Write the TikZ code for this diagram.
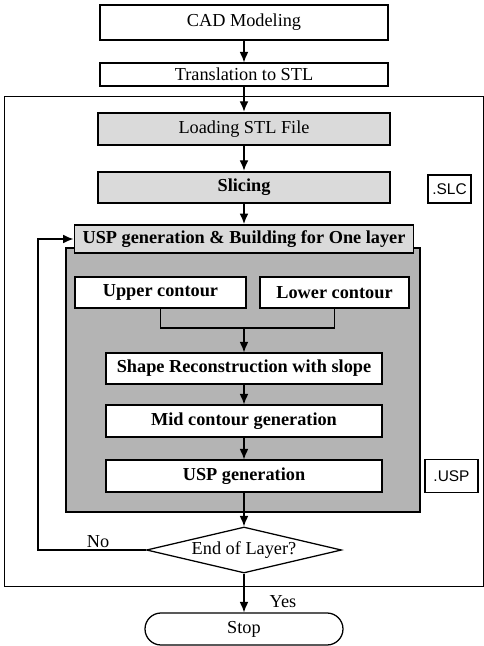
\documentclass[tikz,border=0pt]{standalone}
\usepackage{fontspec}
\setmainfont{Liberation Serif}
\newfontfamily\extfont{Liberation Sans}
\usepackage{xcolor}
\definecolor{flowPanel}{HTML}{B4B4B4}
\definecolor{flowStep}{HTML}{DADADA}
\usetikzlibrary{arrows.meta,shapes.geometric}

\begin{document}
\begin{tikzpicture}[
  box/.style={draw, fill=white, line width=0.9pt, inner sep=0pt, font=\fontsize{13}{15}\selectfont},
  stepbox/.style={box, fill=flowStep, line width=1.8pt},
  boldbox/.style={box, font=\fontsize{13}{15}\selectfont\bfseries},
  extbox/.style={draw, fill=white, line width=0.9pt, inner sep=0pt, font=\extfont\fontsize{11}{13}\selectfont},
  flow/.style={-{Latex[length=2.6mm,width=2.2mm]}, line width=0.9pt},
  link/.style={line width=0.9pt}
]
  \useasboundingbox (0cm,0cm) rectangle (12.1cm,-16.15cm);
  % frame and shaded panel
  \draw[line width=0.6pt] (0.1cm,-2.4cm) rectangle (12.075cm,-14.65cm);
  \filldraw[fill=flowPanel, line width=1.2pt] (1.65cm,-6.2cm) rectangle (10.5cm,-12.8cm);
  % steps
  \node[box, minimum width=7.2cm, minimum height=0.875cm] (cad) at (6.1cm,-0.5625cm) {CAD Modeling};
  \node[box, minimum width=7.2cm, minimum height=0.575cm] (stl) at (6.1cm,-1.8625cm) {Translation to STL};
  \node[stepbox, minimum width=7.3cm, minimum height=0.8cm] (load) at (6.1cm,-3.225cm) {Loading STL File};
  \node[stepbox, minimum width=7.3cm, minimum height=0.775cm, font=\fontsize{13}{15}\selectfont\bfseries] (slice) at (6.1cm,-4.6875cm) {Slicing};
  \node[extbox, minimum width=1.075cm, minimum height=0.7cm] (slc) at (11.2375cm,-4.725cm) {.SLC};
  \node[stepbox, line width=1.4pt, minimum width=8.475cm, minimum height=0.7cm, font=\fontsize{13}{15}\selectfont\bfseries] (layer) at (6.1cm,-5.975cm) {USP generation \& Building for One layer};
  \node[boldbox, minimum width=4.275cm, minimum height=0.775cm] (upper) at (4.0125cm,-7.3125cm) {Upper contour};
  \node[boldbox, minimum width=3.725cm, minimum height=0.775cm] (lower) at (8.3625cm,-7.3125cm) {Lower contour};
  \coordinate (merge) at (6.1cm,-8.2cm);
  \node[boldbox, minimum width=6.9cm, minimum height=0.775cm] (shape) at (6.1cm,-9.2125cm) {Shape Reconstruction with slope};
  \node[boldbox, minimum width=6.9cm, minimum height=0.8cm] (mid) at (6.1cm,-10.525cm) {Mid contour generation};
  \node[boldbox, minimum width=6.9cm, minimum height=0.8cm] (usp) at (6.1cm,-11.9cm) {USP generation};
  \node[extbox, minimum width=1.325cm, minimum height=0.825cm] (uspfile) at (11.2875cm,-11.9cm) {.USP};
  \node[draw, diamond, aspect=4.2, line width=0.9pt, inner sep=0pt, minimum width=4.875cm, minimum height=1.15cm, font=\fontsize{13}{15}\selectfont] (test) at (6.1cm,-13.75cm) {End of Layer?};
  \node[box, rounded corners=0.4cm, minimum width=4.95cm, minimum height=0.8cm] (stop) at (6.1cm,-15.725cm) {Stop};
  \coordinate (loopcorner) at (0.95cm,-13.75cm);
  % connectors
  \draw[flow] (cad) -- (stl);
  \draw[flow] (stl) -- (load);
  \draw[flow] (load) -- (slice);
  \draw[flow] (slice) -- (layer);
  \draw[link] (upper.south) |- (merge) -| (lower.south);
  \draw[flow] (merge) -- (shape);
  \draw[flow] (shape) -- (mid);
  \draw[flow] (mid) -- (usp);
  \draw[flow] (usp) -- (test);
  \draw[flow] (test.west) -- (loopcorner) |- (layer.west);
  \draw[flow] (test) -- (stop);
  \node[font=\fontsize{13}{15}\selectfont] (no) at (2.45cm,-13.55cm) {No};
  \node[font=\fontsize{13}{15}\selectfont] (yes) at (7.075cm,-15.05cm) {Yes};
\end{tikzpicture}
\end{document}
